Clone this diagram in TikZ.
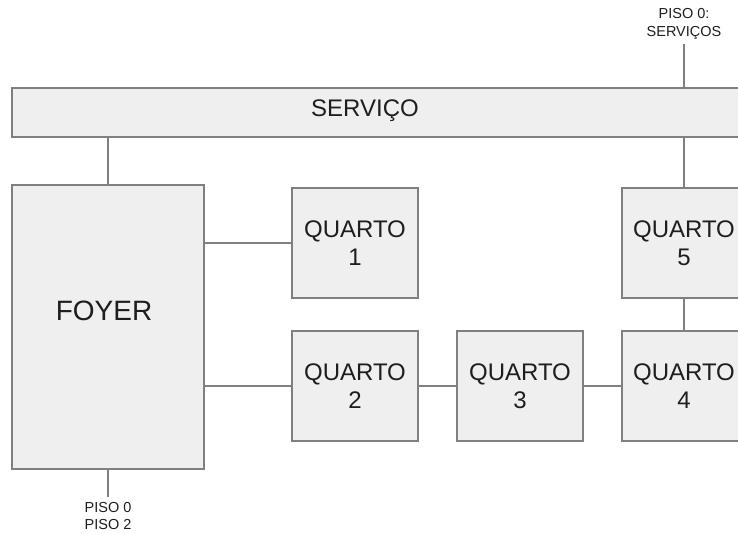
\documentclass[tikz,border=0pt]{standalone}
\usepackage{fontspec}
\setmainfont{Liberation Sans}
\usepackage{tikz}
\usetikzlibrary{positioning,calc}
\usepackage{xcolor}
\definecolor{BoxFill}{RGB}{239,239,239}
\definecolor{BoxLine}{RGB}{128,128,128}
\definecolor{InkDark}{RGB}{30,30,30}

\begin{document}
\begin{tikzpicture}[
    x=1pt, y=-1pt,
    every node/.style={text=InkDark, align=center},
    room/.style={draw=BoxLine, fill=BoxFill, line width=1.2pt, rectangle, inner sep=0pt,
                 font=\fontsize{24}{28}\selectfont},
    roombox/.style={room, minimum width=126pt, minimum height=110pt},
    link/.style={draw=BoxLine, line width=1.2pt},
    floornote/.style={font=\fontsize{14.5}{18}\selectfont, inner sep=0pt},
]
\useasboundingbox (0,0) rectangle (738,533);
\clip (0,0) rectangle (738,533);
\node[room, minimum width=750pt, minimum height=49pt] (servico) at (387,112.5) {};
\node[font=\fontsize{24}{28}\selectfont] (servicotxt) at (365,111) {SERVIÇO};
\node[room, minimum width=192pt, minimum height=284pt,
      label={[font=\fontsize{28}{32}\selectfont, text=InkDark, xshift=-4pt, yshift=16pt]center:FOYER}]
      (foyer) at (108,327) {};
\node[roombox] (q1) at (355,243) {QUARTO\\1};
\node[roombox] (q2) at (355,386) {QUARTO\\2};
\node[roombox] (q3) at (520,386) {QUARTO\\3};
\node[roombox, minimum width=124pt] (q4) at (684,386) {QUARTO\\4};
\node[roombox, minimum width=124pt] (q5) at (684,243) {QUARTO\\5};
\node[floornote] (pisotop) at (684,24) {PISO 0:\\SERVIÇOS};
\node[floornote, font=\fontsize{14.5}{16.5}\selectfont] (pisobot) at (108,516) {PISO 0\\PISO 2};

\draw[link] (pisotop.south) ++(0,4) -- (servico.north -| pisotop.south);
\draw[link] (foyer.north) -- (foyer.north |- servico.south);
\draw[link] (q5.north) -- (q5.north |- servico.south);
\draw[link] (q1.west) -- (q1.west -| foyer.east);
\draw[link] (q2.west) -- (q2.west -| foyer.east);
\draw[link] (q2.east) -- (q3.west);
\draw[link] (q3.east) -- (q4.west);
\draw[link] (q5.south) -- (q4.north);
\draw[link] (foyer.south) -- ($(pisobot.north)+(0,-5)$);
\end{tikzpicture}
\end{document}
